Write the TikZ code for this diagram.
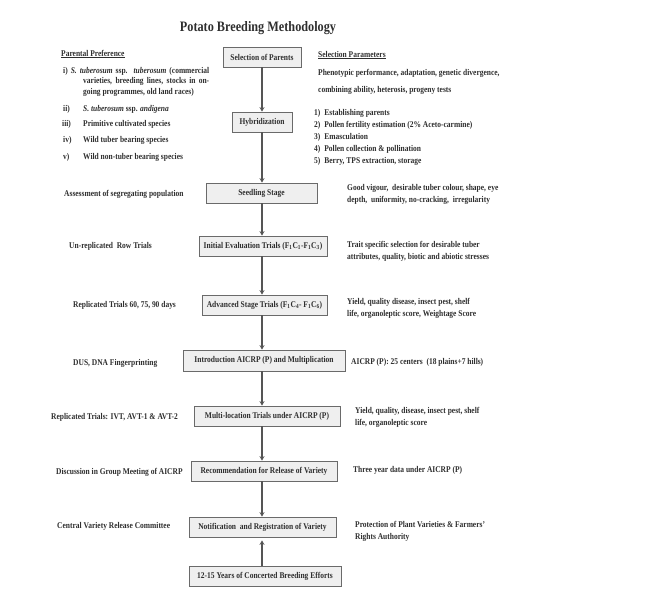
\documentclass[tikz,border=0pt]{standalone}
\usepackage{fontspec}
\setmainfont{Liberation Serif}[FakeStretch=0.85]
\usetikzlibrary{arrows.meta}
\definecolor{txtgray}{HTML}{2E2E2E}
\definecolor{boxfill}{HTML}{EFEFEF}
\definecolor{boxline}{HTML}{6A6A6A}
\definecolor{arrowgray}{HTML}{555555}
\newcommand\notesize{\fontsize{8.8}{12}\selectfont}
\newcommand\titlesize{\fontsize{14.4}{16}\selectfont}

\begin{document}
\begin{tikzpicture}[x=1pt, y=-1pt,
  stage/.style={draw=boxline, fill=boxfill, line width=0.8pt, minimum height=20, inner sep=0pt, font=\notesize\bfseries, text=txtgray},
  note/.style={anchor=west, inner sep=0pt, align=left, font=\notesize\bfseries, text=txtgray},
  flow/.style={draw=arrowgray, line width=1.6pt, -{Stealth[length=4.5pt,width=5pt]}}]
 \useasboundingbox (0,0) rectangle (665,611);
 \node[font=\titlesize\bfseries, text=txtgray] (title) at (258,28) {Potato Breeding Methodology};

 % stages down the middle
 \node[stage, minimum width=78] (parents) at (262,57) {Selection of Parents};
 \node[stage, minimum width=60] (hybrid) at (262,122) {Hybridization};
 \node[stage, minimum width=111] (seedling) at (261.5,193) {Seedling Stage};
 \node[stage, minimum width=128] (initial) at (263,246) {Initial Evaluation Trials (F\textsubscript{1}C\textsubscript{1}-F\textsubscript{1}C\textsubscript{3})};
 \node[stage, minimum width=125] (advanced) at (264.5,305) {Advanced Stage Trials (F\textsubscript{1}C\textsubscript{4}- F\textsubscript{1}C\textsubscript{6})};
 \node[stage, minimum width=162, minimum height=21] (intro) at (264,360.5) {Introduction AICRP (P) and Multiplication};
 \node[stage, minimum width=146] (multi) at (267,416) {Multi-location Trials under AICRP (P)};
 \node[stage, minimum width=146] (recommend) at (264,471) {Recommendation for Release of Variety};
 \node[stage, minimum width=147] (notify) at (262.5,527) {Notification~ and Registration of Variety};
 \node[stage, minimum width=152] (years) at (265,576) {12-15 Years of Concerted Breeding Efforts};

 \draw[flow] (parents) -- (parents |- hybrid.north);
 \draw[flow] (hybrid) -- (hybrid |- seedling.north);
 \draw[flow] (seedling.south -| hybrid) -- (hybrid |- initial.north);
 \draw[flow] (initial.south -| hybrid) -- (hybrid |- advanced.north);
 \draw[flow] (advanced.south -| hybrid) -- (hybrid |- intro.north);
 \draw[flow] (intro.south -| hybrid) -- (hybrid |- multi.north);
 \draw[flow] (multi.south -| hybrid) -- (hybrid |- recommend.north);
 \draw[flow] (recommend.south -| hybrid) -- (hybrid |- notify.north);
 \draw[flow, shorten >=3pt] (years.north -| hybrid) -- (hybrid |- notify.south);

 % left column
 \node[note] (parhead) at (61,54) {\underline{Parental Preference}};
 \node[note] (par1a) at (63,71) {\makebox[146pt][s]{i) \textit{S. tuberosum} ssp. \textit{tuberosum} (commercial}};
 \node[note] (par1b) at (83,81.5) {\makebox[126pt][s]{varieties, breeding lines, stocks in on-}};
 \node[note] (par1c) at (83,92) {going programmes, old land races)};
 \node[note] (num2) at (63,109) {ii)};
 \node[note] (par2) at (83,109) {\textit{S. tuberosum} ssp. \textit{andigena}};
 \node[note] (num3) at (62,124) {iii)};
 \node[note] (par3) at (83,124) {Primitive cultivated species};
 \node[note] (num4) at (63,140) {iv)};
 \node[note] (par4) at (83,140) {Wild tuber bearing species};
 \node[note] (num5) at (63,157) {v)};
 \node[note] (par5) at (83,157) {Wild non-tuber bearing species};

 \node[note] (assess) at (64,194) {Assessment of segregating population};
 \node[note] (unrep) at (69,246) {Un-replicated~ Row Trials};
 \node[note] (rep) at (73,305) {Replicated Trials 60, 75, 90 days};
 \node[note] (dus) at (73,363) {DUS, DNA Fingerprinting};
 \node[note] (ivt) at (51,417) {Replicated Trials: IVT, AVT-1 \& AVT-2};
 \node[note] (group) at (56,472) {Discussion in Group Meeting of AICRP};
 \node[note] (cvrc) at (57,526) {Central Variety Release Committee};

 % right column
 \node[note] (selhead) at (318,55) {\underline{Selection Parameters}};
 \node[note] (sel1) at (318,73) {Phenotypic performance, adaptation, genetic divergence,};
 \node[note] (sel2) at (318,90) {combining ability, heterosis, progeny tests};
 \node[note] (step1) at (314,113) {1)\hspace{4pt}Establishing parents};
 \node[note] (step2) at (314,125) {2)\hspace{4pt}Pollen fertility estimation (2\% Aceto-carmine)};
 \node[note] (step3) at (314,137) {3)\hspace{4pt}Emasculation};
 \node[note] (step4) at (314,149) {4)\hspace{4pt}Pollen collection \& pollination};
 \node[note] (step5) at (314,161) {5)\hspace{4pt}Berry, TPS extraction, storage};

 \node[note] (vigour) at (347,194.5) {Good vigour,~ desirable tuber colour, shape, eye\\depth,~ uniformity, no-cracking,~ irregularity};
 \node[note] (trait) at (347,251.5) {Trait specific selection for desirable tuber\\attributes, quality, biotic and abiotic stresses};
 \node[note] (yield1) at (347,308.5) {Yield, quality disease, insect pest, shelf\\life, organoleptic score, Weightage Score};
 \node[note] (centers) at (351,362) {AICRP (P): 25 centers~ (18 plains+7 hills)};
 \node[note] (yield2) at (355,417.5) {Yield, quality, disease, insect pest, shelf\\life, organoleptic score};
 \node[note] (three) at (353,470) {Three year data under AICRP (P)};
 \node[note] (ppv) at (355,531) {Protection of Plant Varieties \& Farmers'\\Rights Authority};
\end{tikzpicture}
\end{document}
